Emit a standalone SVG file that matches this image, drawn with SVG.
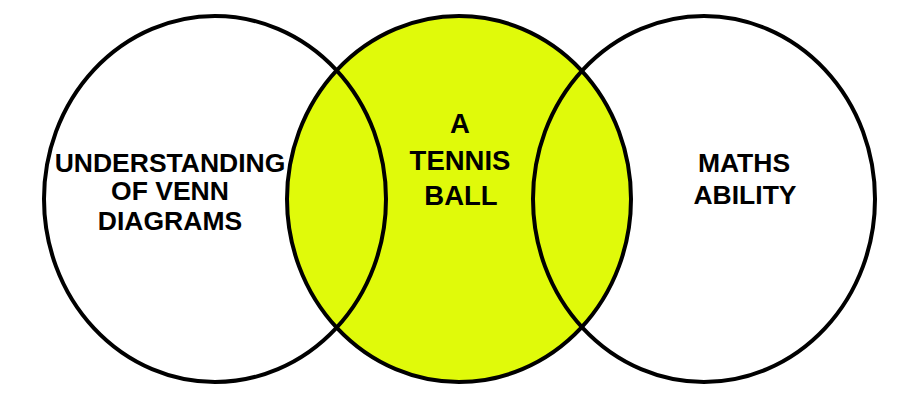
<svg xmlns="http://www.w3.org/2000/svg" width="900" height="400" viewBox="0 0 900 400">
  <style>
    .ring { fill: none; stroke: #000; stroke-width: 4; }
    .ball { fill: #e0fa0a; stroke: #000; stroke-width: 4; }
    .lbl { font-family: "Liberation Sans", Arial, sans-serif; font-weight: bold; fill: #000; text-anchor: middle; }
  </style>
  <rect width="900" height="400" fill="#fff"/>
  <g id="tennis-ball">
    <ellipse class="ball" cx="459" cy="199" rx="172" ry="183"/>
    <text class="lbl" font-size="27.5" x="460" y="133">A</text>
    <text class="lbl" font-size="27.5" x="460" y="170">TENNIS</text>
    <text class="lbl" font-size="27.5" x="461" y="205">BALL</text>
  </g>
  <g id="venn-understanding">
    <ellipse class="ring" cx="215" cy="199" rx="171" ry="183"/>
    <text class="lbl" font-size="26.5" x="170" y="172">UNDERSTANDING</text>
    <text class="lbl" font-size="26.5" x="170" y="200">OF VENN</text>
    <text class="lbl" font-size="26.5" x="170" y="230">DIAGRAMS</text>
  </g>
  <g id="maths-ability">
    <ellipse class="ring" cx="704" cy="199" rx="171" ry="183"/>
    <text class="lbl" font-size="26.5" x="744" y="172">MATHS</text>
    <text class="lbl" font-size="26.5" x="745" y="204">ABILITY</text>
  </g>
  <g id="connectors"/>
</svg>
